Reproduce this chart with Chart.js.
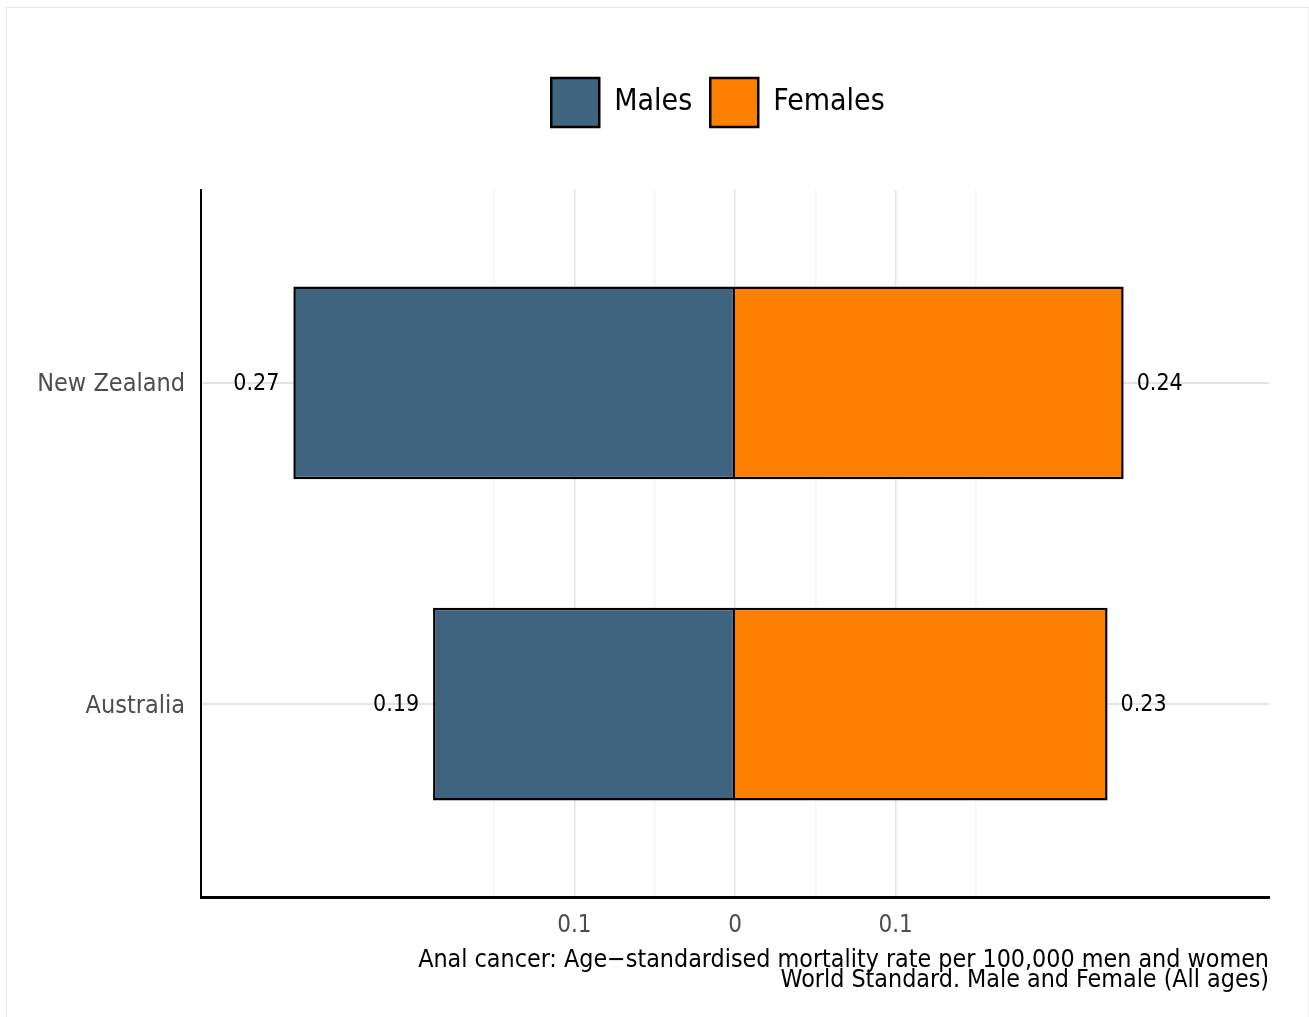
<!DOCTYPE html>
<html>
<head>
<meta charset="utf-8">
<script src="https://cdn.jsdelivr.net/npm/chart.js@4.4.1/dist/chart.umd.min.js"></script>
<style>
  html, body { margin: 0; padding: 0; background: #fff; }
  .frame {
    position: absolute; left: 6px; top: 7px; width: 1301px; height: 1020px;
    border-top: 1px solid #e4e4e4; border-left: 1px solid #e4e4e4; border-right: 1px solid #f0f0f0;
  }
  #chart { position: absolute; left: 0; top: 0; }
</style>
</head>
<body>
<div class="frame"></div>
<canvas id="chart" width="1309" height="1017"></canvas>
<script>
// === DATA ===
const countries = ['New Zealand', 'Australia'];
const males = [0.275, 0.188];
const females = [0.242, 0.232];
const maleLabels = ['0.27', '0.19'];
const femaleLabels = ['0.24', '0.23'];
const xTicks = [-0.15, -0.1, -0.05, 0, 0.05, 0.1, 0.15];
const xTickLabels = ['', '0.1', '', '0', '', '0.1', ''];
const caption = [
    'Anal cancer: Age\u2212standardised mortality rate per 100,000 men and women',
    'World Standard. Male and Female (All ages)'
];

const FONT = "'DejaVu Sans Condensed', 'DejaVu Sans', sans-serif";
const LEGEND_SHIFT = -17;
const X_MIN = -0.3325;
const X_MAX = 0.3325;

// row position on the y scale (top row = highest value)
function rowPos(i) {
    return countries.length - i;
}

function setXTicks(scale) {
    scale.ticks = xTicks.map(v => ({ value: v }));
}

// value labels next to bar ends
const valueLabels = {
    id: 'valueLabels',
    afterDatasetsDraw(chart) {
        const ctx = chart.ctx;
        ctx.save();
        ctx.font = '23px ' + FONT;
        ctx.fillStyle = '#000';
        ctx.textBaseline = 'middle';
        [maleLabels, femaleLabels].forEach((labels, d) => {
            chart.getDatasetMeta(d).data.forEach((bar, i) => {
                ctx.textAlign = d === 0 ? 'right' : 'left';
                ctx.fillText(labels[i], bar.x + (d === 0 ? -14 : 13), bar.y + 1);
            });
        });
        ctx.restore();
    }
};

// legend sits a little left of the plot centre
const legendOffset = {
    id: 'legendOffset',
    afterLayout(chart) {
        chart.legend.left += LEGEND_SHIFT;
        chart.legend.right += LEGEND_SHIFT;
    }
};

new Chart(document.getElementById('chart'), {
    type: 'bar',
    data: {
        datasets: [
            {
                label: 'Males',
                data: males.map((v, i) => ({ x: -v, y: rowPos(i) })),
                backgroundColor: '#3e6480',
                borderColor: '#000',
                borderWidth: 2.5,
                borderSkipped: false
            },
            {
                label: 'Females',
                data: females.map((v, i) => ({ x: v, y: rowPos(i) })),
                backgroundColor: '#ff8000',
                borderColor: '#000',
                borderWidth: 2.5,
                borderSkipped: 'start'
            }
        ]
    },
    options: {
        indexAxis: 'y',
        responsive: false,
        animation: false,
        events: [],
        categoryPercentage: 1,
        barPercentage: 0.6,
        inflateAmount: 0,
        layout: { padding: { top: 60, left: 0, right: 40, bottom: 0 } },
        plugins: {
            legend: {
                position: 'top',
                fullSize: false,
                labels: {
                    boxWidth: 48,
                    boxHeight: 49,
                    padding: 18,
                    color: '#000',
                    font: { family: FONT, size: 30 }
                }
            },
            tooltip: { enabled: false }
        },
        scales: {
            x: {
                type: 'linear',
                min: X_MIN,
                max: X_MAX,
                stacked: true,
                afterBuildTicks: setXTicks,
                afterFit: (s) => { s.height = 120; },
                grid: { display: false, drawTicks: false },
                border: { color: '#000', width: 3 },
                ticks: {
                    autoSkip: false,
                    maxRotation: 0,
                    padding: 14,
                    color: '#4d4d4d',
                    font: { family: FONT, size: 24 },
                    callback: (v, i) => xTickLabels[i]
                },
                title: {
                    display: true,
                    text: caption,
                    align: 'end',
                    color: '#000',
                    font: { family: FONT, size: 24.8, lineHeight: '20px' },
                    padding: { top: 0, bottom: 26 }
                }
            },
            // top axis only carries the vertical grid lines
            x2: {
                type: 'linear',
                position: 'top',
                min: X_MIN,
                max: X_MAX,
                afterBuildTicks: setXTicks,
                afterFit: (s) => { s.height = 53; },
                grid: {
                    color: (c) => xTickLabels[c.index] ? '#e4e4e4' : '#f4f4f4',
                    lineWidth: 1.5,
                    drawTicks: false
                },
                border: { display: false },
                ticks: { display: false }
            },
            y: {
                type: 'linear',
                min: 0.4,
                max: 2.6,
                offset: false,
                stacked: true,
                afterBuildTicks: (s) => { s.ticks = countries.map((c, i) => ({ value: rowPos(countries.length - 1 - i) })); },
                afterFit: (s) => { s.width = 201; },
                grid: { color: '#e4e4e4', lineWidth: 2, drawTicks: false, offset: false },
                border: { color: '#000', width: 2 },
                ticks: {
                    padding: 16,
                    labelOffset: 2,
                    color: '#4d4d4d',
                    font: { family: FONT, size: 25 },
                    callback: (v) => countries[countries.length - v]
                }
            }
        }
    },
    plugins: [valueLabels, legendOffset]
});
</script>
</body>
</html>
